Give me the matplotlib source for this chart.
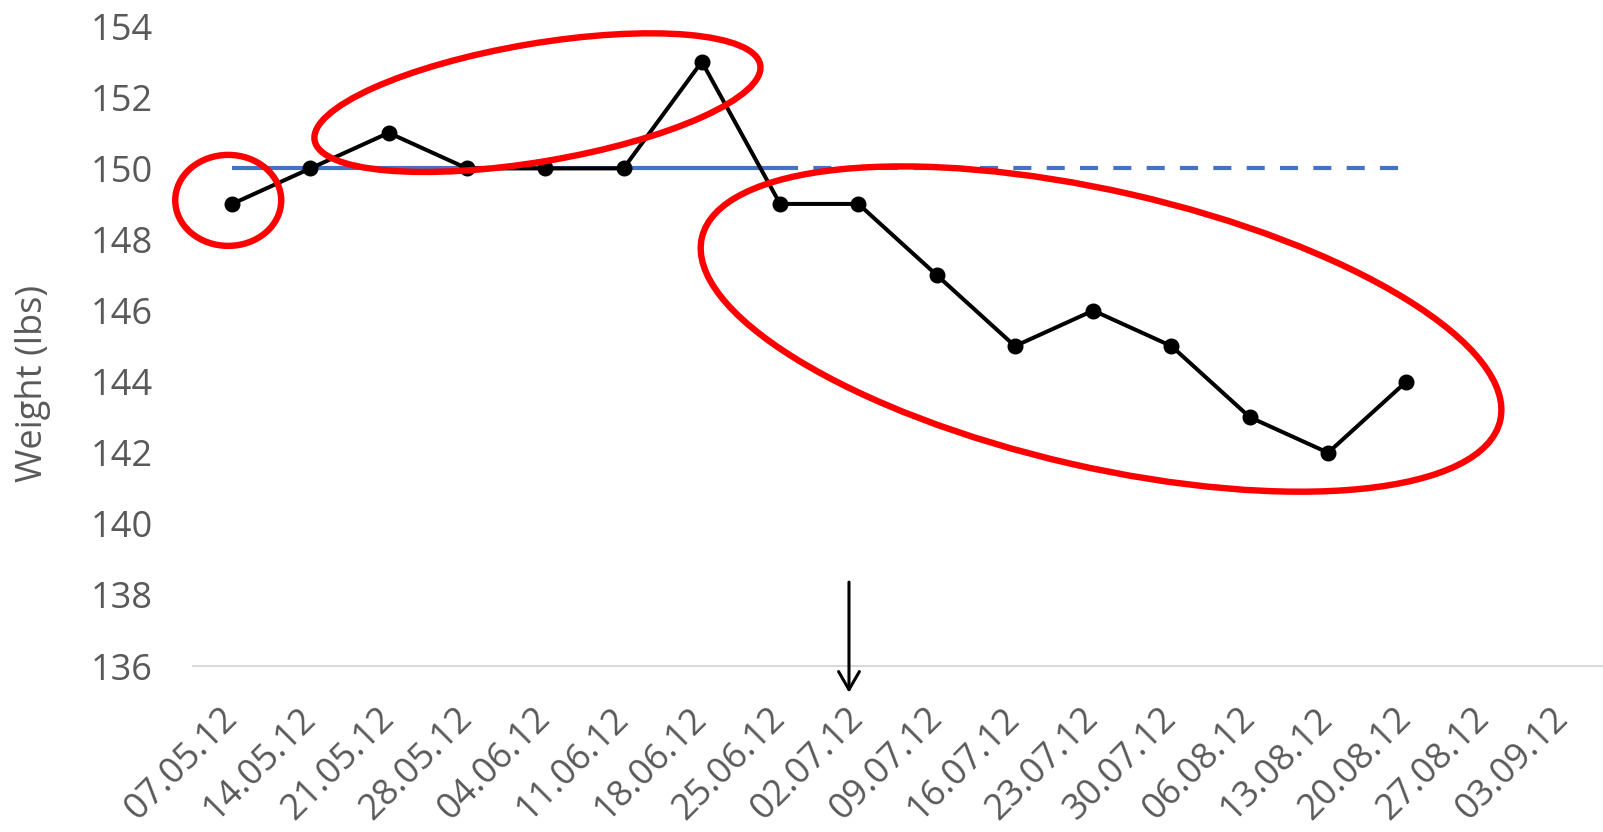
import matplotlib
matplotlib.use("Agg")
import matplotlib.pyplot as plt
from matplotlib.patches import Ellipse
from matplotlib.transforms import Affine2D, ScaledTranslation

plt.rcParams['font.family'] = ['Open Sans', 'DejaVu Sans']
plt.rcParams['lines.scale_dashes'] = False

# ---- data ----
dates = ["07.05.12", "14.05.12", "21.05.12", "28.05.12", "04.06.12", "11.06.12",
         "18.06.12", "25.06.12", "02.07.12", "09.07.12", "16.07.12", "23.07.12",
         "30.07.12", "06.08.12", "13.08.12", "20.08.12", "27.08.12", "03.09.12"]
weights = [149, 150, 151, 150, 150, 150, 153, 149, 149, 147, 145, 146, 145, 143, 142, 144]
baseline_value = 150
baseline_solid_range = (0, 7)     # category indices
baseline_dashed_range = (7, 15)
y_ticks = [136, 138, 140, 142, 144, 146, 148, 150, 152, 154]

# annotation ellipses: (center category, center weight, width px, height px, angle deg)
ellipses = [
    (-0.05, 149.1, 106, 91, 0),
    (3.9, 151.85, 452, 118, 9.6),
    (11.1, 145.48, 819, 276, -12.9),
]
arrow_x = 7.88
arrow_y_start, arrow_y_end = 138.36, 135.25

gray = "#595959"

fig = plt.figure(figsize=(16.03, 8.32), dpi=100)
ax = fig.add_axes([0.1204, 0.1995, 0.879, 0.769])

x = list(range(len(dates)))

# baseline
xs = list(range(baseline_solid_range[0], baseline_solid_range[1] + 1))
ax.plot(xs, [baseline_value] * len(xs), color="#4472C4", lw=3.0, solid_capstyle='butt', zorder=2)
xd = list(range(baseline_dashed_range[0], baseline_dashed_range[1] + 1))
ax.plot(xd, [baseline_value] * len(xd), color="#4472C4", lw=3.0, linestyle=(0, (13, 11)),
        dash_capstyle='butt', zorder=2)

# weights
ax.plot(list(range(len(weights))), weights, color="black", lw=2.9, marker="o",
        markersize=10.5, zorder=3)

ax.set_xlim(-0.5, len(dates) - 0.5)
ax.set_ylim(136, 154)
ax.set_yticks(y_ticks)
ax.set_xticks(x)
ax.set_xticklabels(dates, rotation=45, ha='right', va='center', rotation_mode='anchor')
ax.tick_params(axis='both', length=0, labelsize=26, labelcolor=gray)
ax.tick_params(axis='y', pad=29)
ax.tick_params(axis='x', pad=34)
for s in ['top', 'right', 'left']:
    ax.spines[s].set_visible(False)
ax.spines['bottom'].set_color("#D9D9D9")
ax.spines['bottom'].set_linewidth(1.5)
fig.text(33 / 1603, 1 - 383 / 832, "Weight (lbs)", fontsize=26, color=gray,
         rotation=90, ha='center', va='center')

# red ellipses (sized in pixels, centered on data positions)
px = Affine2D().scale(fig.dpi / 100.0)
for cx, cy, w, h, ang in ellipses:
    e = Ellipse((0, 0), w, h, angle=ang, fill=False, edgecolor="#FF0000", lw=4.6,
                transform=px + ScaledTranslation(cx, cy, ax.transData), clip_on=False, zorder=4)
    ax.add_patch(e)

# arrow
ax.annotate("", xy=(arrow_x, arrow_y_end), xytext=(arrow_x, arrow_y_start),
            arrowprops=dict(arrowstyle="->,head_length=0.52,head_width=0.3", color="black",
                            lw=2.2, mutation_scale=25, shrinkA=0, shrinkB=0),
            annotation_clip=False)

fig.savefig("out.png", dpi=100)
